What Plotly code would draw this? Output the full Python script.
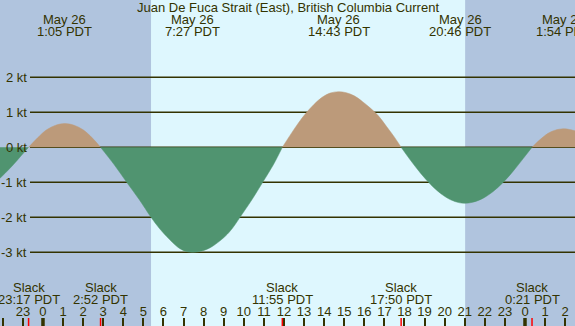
import plotly.graph_objects as go

# ---------------- data (hours since midnight May 26, PDT) ----------------
hours = [-2.3, -1.9, -1.48, -1.1, -0.717,
         -0.27, 0.18, 0.63, 1.083, 1.55, 2.0, 2.45, 2.867,
         3.55, 4.17, 4.8, 5.38, 5.8, 6.16, 6.73, 7.1, 7.45, 7.85, 8.32, 9.06, 9.45,
         9.81, 10.4, 10.94, 11.47, 11.917,
         12.3, 12.7, 13.1, 13.5, 13.9, 14.3, 14.717, 15.1, 15.5, 15.9, 16.3, 16.7, 17.1, 17.5, 17.833,
         18.3, 18.8, 19.3, 19.8, 20.3, 20.7, 21.0, 21.4, 21.9, 22.4, 22.9, 23.4, 23.9, 24.35,
         24.75, 25.15, 25.5, 25.9, 26.3, 26.6]
knots = [-0.97, -0.75, -0.5, -0.25, 0,
         0.27, 0.5, 0.63, 0.68, 0.63, 0.5, 0.27, 0,
         -0.5, -1.0, -1.5, -2.0, -2.32, -2.55, -2.86, -2.97, -3.0, -2.97, -2.87, -2.55, -2.3,
         -2.0, -1.5, -1.0, -0.5, 0,
         0.34, 0.68, 0.98, 1.23, 1.43, 1.55, 1.59, 1.56, 1.47, 1.31, 1.12, 0.9, 0.6, 0.29, 0,
         -0.37, -0.74, -1.06, -1.32, -1.5, -1.58, -1.6, -1.57, -1.46, -1.27, -1.01, -0.69, -0.33, 0,
         0.22, 0.4, 0.49, 0.53, 0.5, 0.45]

extreme_hours = [1.083, 7.45, 14.717, 20.767, 25.9]
extreme_dates = ["May 26", "May 26", "May 26", "May 26", "May 27"]
extreme_times = ["1:05 PDT", "7:27 PDT", "14:43 PDT", "20:46 PDT", "1:54 PDT"]

slack_hours = [-0.717, 2.867, 11.917, 17.833, 24.35]
slack_times = ["23:17 PDT", "2:52 PDT", "11:55 PDT", "17:50 PDT", "0:21 PDT"]

sunrise, sunset = 5.38, 21.02
midnights = [0, 24]

level_values = [2, 1, 0, -1, -2, -3]
level_labels = ["2 kt", "1 kt", "0 kt", "-1 kt", "-2 kt", "-3 kt"]

tick_hours = list(range(-2, 27))
tick_labels = [str(h % 24) for h in tick_hours]

title = "Juan De Fuca Strait (East), British Columbia Current"

# ---------------- styling ----------------
W, H = 575, 326
NIGHT = "#b0c4de"
DAY = "#def7fe"
FLOOD = "#bc9a7a"
EBB = "#509470"
INK = "#333300"
FONT = "Liberation Sans, Arial, sans-serif"
X0, X1 = -2.14, 26.49
Y0, Y1 = -5.106, 4.209


def py(p):
    return 1 - p / H


fig = go.Figure()

# split the curve into flood / ebb segments bounded by slack (zero) points
segments = []
cur_x, cur_y = [], []
for x, y in zip(hours, knots):
    cur_x.append(x)
    cur_y.append(y)
    if y == 0 and len(cur_x) > 1:
        segments.append((cur_x, cur_y))
        cur_x, cur_y = [x], [y]
if len(cur_x) > 1:
    segments.append((cur_x, cur_y))

for sx, sy in segments:
    positive = sum(sy) > 0
    col = FLOOD if positive else EBB
    fig.add_trace(go.Scatter(
        x=sx, y=sy, mode="lines", fill="tozeroy", fillcolor=col,
        line=dict(color=col, width=0.5, shape="spline", smoothing=1.0),
        hoverinfo="skip", showlegend=False))

# invisible trace so the label axis (x2) is drawn
fig.add_trace(go.Scatter(x=[X0], y=[0], mode="markers", marker=dict(opacity=0),
                         xaxis="x2", yaxis="y", hoverinfo="skip", showlegend=False))

shapes = []
# daylight band
shapes.append(dict(type="rect", xref="x", yref="paper", x0=sunrise, x1=sunset,
                   y0=0, y1=1, fillcolor=DAY, line=dict(width=0), layer="below"))
# level lines
for v in level_values:
    shapes.append(dict(type="line", xref="paper", yref="y", x0=30 / W, x1=1,
                       y0=v, y1=v, line=dict(color=INK, width=1.5), layer="below"))
# midnight ticks (thicker)
for m in midnights:
    shapes.append(dict(type="line", xref="x", yref="paper", x0=m, x1=m,
                       y0=0, y1=8 / H, line=dict(color=INK, width=3.5)))
# slack ticks (red)
for s in slack_hours:
    shapes.append(dict(type="line", xref="x", yref="paper", x0=s, x1=s,
                       y0=0, y1=8 / H, line=dict(color="#ff0000", width=1.5)))

ann = []
ann.append(dict(text=title, x=0.5, xref="paper", y=py(7.5), yref="paper",
                showarrow=False, xanchor="center", yanchor="middle"))
for h, d, t in zip(extreme_hours, extreme_dates, extreme_times):
    ann.append(dict(text=d, x=h, xref="x", y=py(19.5), yref="paper",
                    showarrow=False, xanchor="center", yanchor="middle"))
    ann.append(dict(text=t, x=h, xref="x", y=py(31.5), yref="paper",
                    showarrow=False, xanchor="center", yanchor="middle"))
for h, t in zip(slack_hours, slack_times):
    ann.append(dict(text="Slack", x=h, xref="x", y=py(287.5), yref="paper",
                    showarrow=False, xanchor="center", yanchor="middle"))
    ann.append(dict(text=t, x=h, xref="x", y=py(299.5), yref="paper",
                    showarrow=False, xanchor="center", yanchor="middle"))
for v, lab in zip(level_values, level_labels):
    ann.append(dict(text=lab, x=29 / W, xref="paper", y=v, yref="y",
                    showarrow=False, xanchor="right", yanchor="middle"))

fig.update_layout(
    width=W, height=H,
    margin=dict(l=0, r=0, t=0, b=0),
    plot_bgcolor=NIGHT, paper_bgcolor=NIGHT,
    font=dict(family=FONT, size=13, color=INK),
    shapes=shapes, annotations=ann,
    showlegend=False,
    xaxis=dict(range=[X0, X1], showgrid=False, zeroline=False,
               tickvals=tick_hours, showticklabels=False,
               ticks="inside", ticklen=8, tickwidth=1.5, tickcolor=INK,
               showline=False, automargin=False),
    xaxis2=dict(range=[X0, X1], overlaying="x", matches="x", anchor="y", side="bottom",
                showgrid=False, zeroline=False,
                tickvals=tick_hours, ticktext=tick_labels, ticks="",
                ticklabelposition="inside", ticklabelstandoff=4,
                tickfont=dict(size=13, color=INK),
                showline=False, automargin=False),
    yaxis=dict(range=[Y0, Y1], showgrid=False, zeroline=False,
               showticklabels=False, ticks="", automargin=False),
)

fig.write_html("out.html", config={"displayModeBar": False},
               post_script="document.body.style.margin='0';document.body.style.overflow='hidden';")
